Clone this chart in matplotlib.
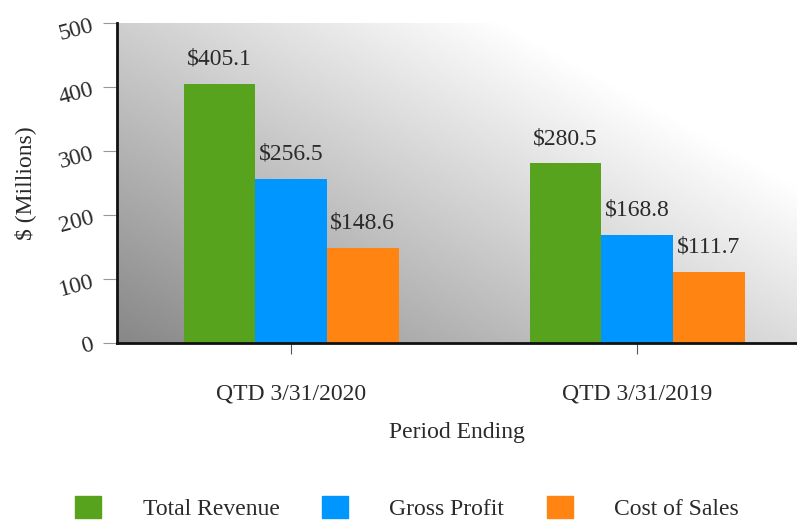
import numpy as np
import matplotlib
matplotlib.use("Agg")
from matplotlib import pyplot as plt
from matplotlib.patches import Patch

# data
periods = ["QTD 3/31/2020", "QTD 3/31/2019"]
series = ["Total Revenue", "Gross Profit", "Cost of Sales"]
total_revenue = [405.1, 280.5]
gross_profit = [256.5, 168.8]
cost_of_sales = [148.6, 111.7]
colors = ["#57a31e", "#0096ff", "#ff8412"]

plt.rcParams['font.family'] = ['Liberation Serif', 'DejaVu Serif']
fs = 17
tc = "#2a2a2a"

fig = plt.figure(figsize=(7.97, 5.22), dpi=100)
ax = fig.add_axes([117/797, 1-343/522, 680/797, 320/522])

# gradient background (dark bottom-left to white top-right)
u = np.linspace(0, 1, 300)
w = np.linspace(0, 1, 200)
U, W = np.meshgrid(u, w)
V = np.clip(0.53 + 0.33*U + 0.28*W, 0, 1)
ax.imshow(V, cmap="gray", vmin=0, vmax=1, origin="lower", aspect="auto",
          extent=[0, 1, 0, 1], transform=ax.transAxes, zorder=0)

x = np.arange(len(periods))
width = 0.207
values = [total_revenue, gross_profit, cost_of_sales]
for i, (vals, c) in enumerate(zip(values, colors)):
    bars = ax.bar(x + (i-1)*width, vals, width, color=c, zorder=2)
    for b, v in zip(bars, vals):
        ax.text(b.get_x() + b.get_width()/2, v + 22, "$%.1f" % v,
                ha="center", va="bottom", fontsize=fs, color=tc)

ax.set_xlim(-0.503, 1.462)
ax.set_ylim(0, 500)
ax.set_yticks([0, 100, 200, 300, 400, 500])
ax.set_xticks(x)
ax.set_xticklabels(periods, fontsize=fs, color=tc)
for lab in ax.get_yticklabels():
    lab.set_rotation(15)
    lab.set_fontsize(fs)
    lab.set_color(tc)
ax.tick_params(axis="y", length=10, color="#999999", pad=5)
ax.tick_params(axis="x", length=8, color="#555555", pad=21)

for s in ["top", "right"]:
    ax.spines[s].set_visible(False)
for s in ["left", "bottom"]:
    ax.spines[s].set_linewidth(2)
    ax.spines[s].set_color("#111111")

ax.set_ylabel("$ (Millions)", fontsize=fs, color=tc, labelpad=15)
ax.set_xlabel("Period Ending", fontsize=fs, color=tc, labelpad=13)

handles = [Patch(color=c) for c in colors]
fig.legend(handles, series, loc="center", bbox_to_anchor=(407/797, 1-508/522),
           ncol=3, frameon=False, fontsize=fs, handlelength=1.1,
           handleheight=1.1, handletextpad=1.75, columnspacing=1.8,
           labelcolor=tc)

fig.savefig("out.png", dpi=100)
